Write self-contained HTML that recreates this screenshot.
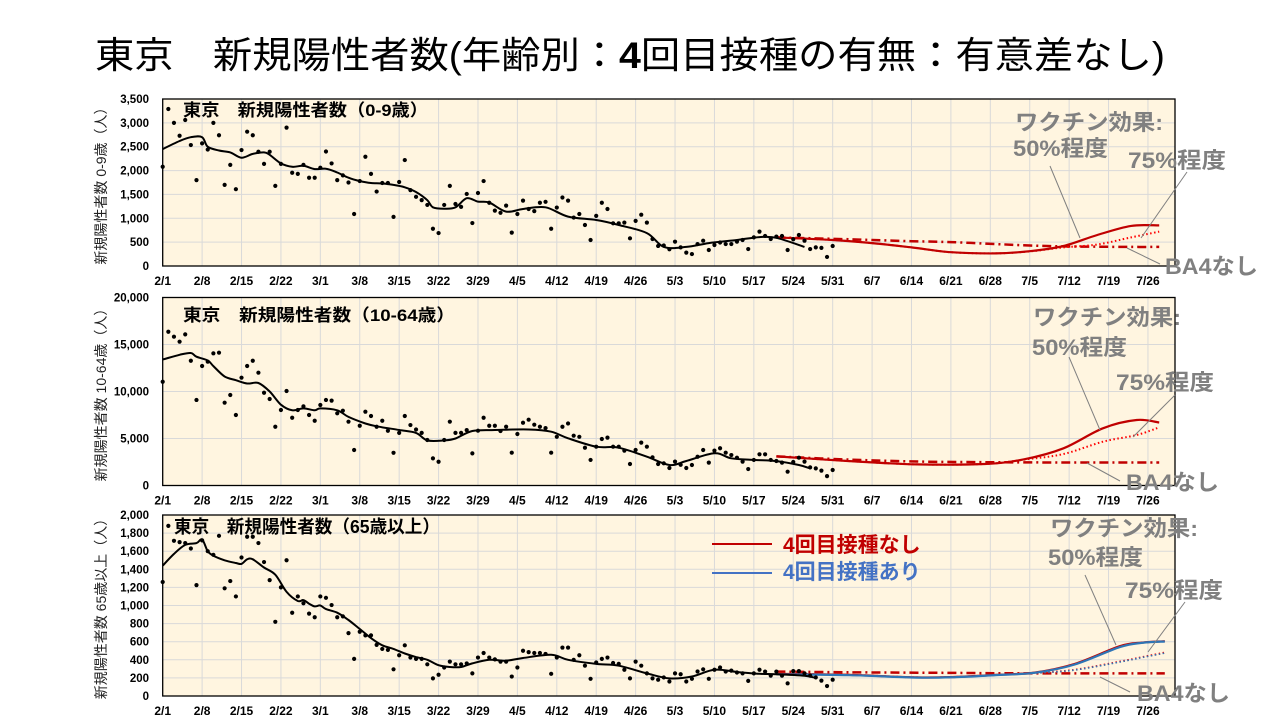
<!DOCTYPE html>
<html><head><meta charset="utf-8">
<style>
html,body{margin:0;padding:0;background:#fff;}
svg{display:block;font-family:"Liberation Sans","Noto Sans CJK JP",sans-serif;}
</style></head>
<body>
<svg id="chart" width="1280" height="720" viewBox="0 0 1280 720" xmlns="http://www.w3.org/2000/svg">
<text x="95" y="68" font-size="37" fill="#000" textLength="1070" lengthAdjust="spacingAndGlyphs">東京　新規陽性者数(年齢別：<tspan font-weight="bold">4</tspan>回目接種の有無：有意差なし)</text>
</svg>
<script>
// ---------- Panel 1 (0-9) ----------
const p1Scatter=[2080,3290,3000,2730,3060,2535,1800,2570,2440,3000,2740,1700,2120,1610,2430,2815,2740,2395,2140,2395,1680,2140,2900,1955,1930,2120,1850,1850,2060,2400,2150,1800,1900,1750,1090,1780,2290,1930,1560,1740,1740,1030,1760,2220,1590,1450,1380,1280,780,690,1280,1680,1300,1240,1510,900,1530,1780,1325,1160,1115,1265,700,1090,1370,1195,1150,1325,1345,780,1225,1435,1370,1015,1090,860,545,1050,1325,1195,895,895,910,580,945,1075,910,565,420,430,350,510,390,280,250,460,530,335,440,493,460,460,510,545,355,600,720,630,565,615,630,335,560,650,530,355,390,380,190,420];
const p1SmoothDays=[0,3,5,7,8,10,12,14,16,18,19,21,23,25,27,29,31,33,35,37,39,41,43,45,47,48,50,52,54,56,58,61,64,68,72,77,81,86,89,93,97,102,106,109,114];
const p1SmoothVals=[2450,2620,2700,2700,2500,2420,2380,2270,2350,2380,2330,2150,2080,2100,2030,2040,1960,1850,1780,1740,1730,1700,1650,1550,1380,1230,1200,1230,1420,1350,1330,1140,1195,1230,1035,965,860,690,400,400,480,545,605,590,400];
const p1ProjDays=[109,119,126,133,140,148,154,160,166,172,177];
const p1Solid=[600,545,480,390,290,265,310,420,650,840,850];
const p1Dotted=[600,545,480,390,290,265,305,390,450,600,720];
const p1DashDot=[600,570,545,520,500,460,430,410,405,400,400];
const p1Ticks=["0","500","1,000","1,500","2,000","2,500","3,000","3,500"];

// ---------- Panel 2 (10-64) ----------
const p2Scatter=[11040,16360,15830,15300,16080,13270,9100,12710,13170,14060,14130,8810,9630,7500,11470,12710,13270,12000,9870,9200,6250,8030,10050,7210,8030,8420,7500,6890,8560,9100,9030,7680,7960,6790,3780,6360,7850,7390,6250,6890,5820,3480,5600,7390,6430,5960,5600,4840,2890,2530,4840,6790,5600,5600,5890,3420,5830,7210,6360,6360,5790,6250,3490,5480,6680,7000,6470,6250,6110,3490,5180,6250,6600,5300,5180,4020,2720,4130,4950,5090,4130,4130,3710,2290,3780,4560,4130,3000,2290,2360,1860,2540,2200,1860,2180,3060,3780,2430,3710,3960,3490,3240,2960,2540,1750,2720,3320,3320,2720,2610,2430,1470,2500,2960,2540,1930,1820,1580,1000,1650];
const p2SmoothDays=[0,3,5,6,8,9,11,13,15,17,19,21,23,25,27,28,31,33,36,38,42,45,47,50,52,55,59,65,69,72,77,81,86,90,93,98,101,105,109,113,115];
const p2SmoothVals=[13400,13900,14100,13700,13300,12700,11600,11200,10850,10900,10000,8600,8000,8200,8000,8200,8000,7300,6600,6300,5900,5600,4800,4800,5000,5800,5900,5960,5720,5020,4130,4020,3060,2180,2610,3430,2890,2720,2600,2180,1820];
const p2ProjDays=[109,122,134,146,153,160,167,173,177];
const p2Solid=[3100,2600,2250,2290,2790,3960,6090,6970,6700];
const p2Dotted=[3100,2600,2250,2290,2750,3350,4660,5370,6190];
const p2DashDot=[3100,2750,2550,2480,2460,2450,2450,2450,2450];
const p2Ticks=["0","5,000","10,000","15,000","20,000"];

// ---------- Panel 3 (65+) ----------
const p3Scatter=[1260,1880,1715,1700,1690,1630,1225,1720,1600,1560,1770,1190,1270,1100,1530,1760,1760,1690,1480,1280,820,1200,1500,920,1100,1025,910,870,1100,1085,1005,870,880,695,410,710,670,670,565,520,510,295,450,560,425,410,410,350,195,235,315,380,350,350,360,250,425,475,425,405,380,380,215,315,500,485,475,475,465,245,425,535,535,400,450,335,190,370,410,425,365,355,290,195,380,335,250,195,180,205,160,250,240,160,190,271,295,190,290,315,270,280,260,250,167,250,290,270,225,270,225,140,275,275,250,225,205,170,110,180];
const p3SmoothDays=[0,2,4,6,7,8,9,11,13,14,15,16,18,20,22,24,25,26,27,28,29,31,33,35,37,39,41,43,45,47,49,51,53,55,58,61,64,69,72,77,81,86,90,94,98,102,106,109,114,116];
const p3SmoothVals=[1440,1570,1670,1690,1730,1600,1550,1500,1470,1460,1510,1510,1420,1340,1150,1050,1060,1020,990,1000,960,920,840,740,640,560,520,470,430,400,340,320,320,360,400,390,420,455,400,355,335,250,195,215,290,265,245,240,223,200];
const p3ProjDays=[109,122,134,141,148,155,162,170,174,178];
const p3Solid=[245,233,205,211,233,260,355,550,590,605];
const p3Dotted=[245,233,205,211,233,255,290,380,430,480];
const p3DashDot=[270,262,258,255,252,250,250,250,250,250];
const p3BlueSolid=[240,230,203,209,231,258,348,540,588,602];
const p3BlueDotted=[240,230,203,209,231,253,287,376,426,474];
const p3Ticks=["0","200","400","600","800","1,000","1,200","1,400","1,600","1,800","2,000"];

const xLabels=["2/1","2/8","2/15","2/22","3/1","3/8","3/15","3/22","3/29","4/5","4/12","4/19","4/26","5/3","5/10","5/17","5/24","5/31","6/7","6/14","6/21","6/28","7/5","7/12","7/19","7/26"];

const NS="http://www.w3.org/2000/svg";
const svg=document.getElementById('chart');
const X0=162.7, PXD=5.63, RIGHT=1175;
function xs(d){return X0+d*PXD;}
function mk(tag,attrs,parent){const e=document.createElementNS(NS,tag);for(const k in attrs)e.setAttribute(k,attrs[k]);(parent||svg).appendChild(e);return e;}
function smoothPath(pts){
  let d="M"+pts[0][0].toFixed(1)+","+pts[0][1].toFixed(1);
  for(let i=0;i<pts.length-1;i++){
    const p0=pts[i-1]||pts[i],p1=pts[i],p2=pts[i+1],p3=pts[i+2]||p2;
    const c1x=p1[0]+(p2[0]-p0[0])/6,c1y=p1[1]+(p2[1]-p0[1])/6;
    const c2x=p2[0]-(p3[0]-p1[0])/6,c2y=p2[1]-(p3[1]-p1[1])/6;
    d+=" C"+c1x.toFixed(1)+","+c1y.toFixed(1)+" "+c2x.toFixed(1)+","+c2y.toFixed(1)+" "+p2[0].toFixed(1)+","+p2[1].toFixed(1);
  }
  return d;
}

function panel(cfg){
  const g=mk('g',{});
  
  
  const ys=v=>cfg.bottom-(v/cfg.max)*(cfg.bottom-cfg.top);
  const bg=mk('rect',{x:X0,y:cfg.top,width:RIGHT-X0,height:cfg.bottom-cfg.top,fill:'#fff5e0'},g);
  
  
  for(let k=1;k<xLabels.length;k++){
    const gl=mk('line',{x1:xs(7*k),x2:xs(7*k),y1:cfg.top,y2:cfg.bottom,stroke:'#d9d9d9','stroke-width':1},g);
    
    
  }
  const nT=cfg.ticks.length-1;
  for(let i=0;i<=nT;i++){
    const v=cfg.max*i/nT, y=ys(v);
    if(i>0&&i<nT){
      const gl=mk('line',{x1:X0,x2:RIGHT,y1:y,y2:y,stroke:'#d9d9d9','stroke-width':1},g);
      
      
    }
    const t=mk('text',{x:149,y:y+4,'font-size':11.5,'font-weight':'bold','text-anchor':'end',fill:'#000'},g);
    t.textContent=cfg.ticks[i];
    
    
  }
  xLabels.forEach((lb,k)=>{
    const t=mk('text',{x:xs(7*k),y:cfg.bottom+19,'font-size':12,'font-weight':'bold','text-anchor':'middle',fill:'#000'},g);
    t.textContent=lb;
    
    
  });
  const bd=mk('rect',{x:X0,y:cfg.top,width:RIGHT-X0,height:cfg.bottom-cfg.top,fill:'none',stroke:'#000','stroke-width':1.3},g);
  
  
  const cy=(cfg.top+cfg.bottom)/2;
  const yt=mk('text',{x:0,y:0,'font-size':14,'text-anchor':'middle',fill:'#222',transform:'translate(106,'+cy+') rotate(-90)'},g);
  yt.textContent=cfg.ytitle;
  
  
  const proj=(vals,color,w,dash,nm)=>{
    const pts=cfg.projDays.map((d,i)=>[xs(d),ys(vals[i])]);
    const p=mk('path',{d:smoothPath(pts),fill:'none',stroke:color,'stroke-width':w},g);
    if(dash)p.setAttribute('stroke-dasharray',dash);
    
    
  };
  proj(cfg.dashdot,'#c00000',2.5,'9,4,2,4','projection-no-ba4');
  proj(cfg.dotted,'#ff0000',2,'1.5,2.5','projection-75pct');
  proj(cfg.solid,'#c00000',2.2,null,'projection-50pct');
  if(cfg.blueSolid){
    proj(cfg.blueSolid,'#2e75b6',2.2,null,'projection-50pct-vaccinated');
    proj(cfg.blueDotted,'#2e75b6',1.6,'1.5,2.5','projection-75pct-vaccinated');
  }
  const sp=cfg.sDays.map((d,i)=>[xs(d),ys(cfg.sVals[i])]);
  const sl=mk('path',{d:smoothPath(sp),fill:'none',stroke:'#000','stroke-width':2},g);
  
  
  cfg.scatter.forEach((v,d)=>{
    if(v==null)return;
    const c=mk('circle',{cx:xs(d),cy:ys(v),r:2.1,fill:'#000'},g);
    
    
  });
  const tt=mk('text',{x:cfg.tx,y:cfg.ty,'font-size':cfg.tfs,'font-weight':'bold',fill:'#000',textLength:cfg.tlen,lengthAdjust:'spacingAndGlyphs'},g);
  tt.textContent=cfg.title;
  
  
  const an=cfg.ann;
  const txt=(s,x,y,len,nm)=>{const t=mk('text',{x:x,y:y,'font-size':22,'font-weight':'bold',fill:'#808080',textLength:len,lengthAdjust:'spacingAndGlyphs'},g);t.textContent=s;};
  txt('ワクチン効果:',an.vx,an.vy,148,'annotation-vaccine-effect');
  txt('50%程度',an.fx,an.fy,95,'annotation-50pct');
  txt('75%程度',an.sx,an.sy,98,'annotation-75pct');
  txt('BA4なし',an.bx,an.by,93,'annotation-no-ba4');
  an.lines.forEach(l=>{
    const ln=mk('line',{x1:l[0],y1:l[1],x2:l[2],y2:l[3],stroke:'#808080','stroke-width':1},g);
    
    
  });
}

panel({name:'panel-age-0-9',top:99,bottom:266,max:3500,ticks:p1Ticks,ytitle:'新規陽性者数 0-9歳（人）',
  scatter:p1Scatter,sDays:p1SmoothDays,sVals:p1SmoothVals,projDays:p1ProjDays,solid:p1Solid,dotted:p1Dotted,dashdot:p1DashDot,
  title:'東京　新規陽性者数（0-9歳）',tx:183,ty:116,tfs:17,tlen:245,
  ann:{vx:1015,vy:130,fx:1013,fy:156,sx:1128,sy:168,bx:1165,by:274,lines:[[1050,166,1080,238],[1187,172,1141,238],[1127,248,1160,264]]}});
panel({name:'panel-age-10-64',top:297.5,bottom:485.5,max:20000,ticks:p2Ticks,ytitle:'新規陽性者数 10-64歳（人）',
  scatter:p2Scatter,sDays:p2SmoothDays,sVals:p2SmoothVals,projDays:p2ProjDays,solid:p2Solid,dotted:p2Dotted,dashdot:p2DashDot,
  title:'東京　新規陽性者数（10-64歳）',tx:183,ty:321,tfs:17,tlen:272,
  ann:{vx:1033,vy:325,fx:1032,fy:355,sx:1116,sy:390,bx:1126,by:490,lines:[[1069,357,1100,430],[1175,395,1133,437],[1087,463,1120,481]]}});
panel({name:'panel-age-65-plus',top:515,bottom:696,max:2000,ticks:p3Ticks,ytitle:'新規陽性者数 65歳以上（人）',
  scatter:p3Scatter,sDays:p3SmoothDays,sVals:p3SmoothVals,projDays:p3ProjDays,solid:p3Solid,dotted:p3Dotted,dashdot:p3DashDot,
  blueSolid:p3BlueSolid,blueDotted:p3BlueDotted,
  title:'東京　新規陽性者数（65歳以上）',tx:174,ty:533,tfs:18,tlen:266,
  ann:{vx:1050,vy:536,fx:1048,fy:565,sx:1125,sy:598,bx:1137,by:701,lines:[[1085,575,1116,645],[1185,602,1148,652],[1100,677,1130,692]]}});

const lg=mk('g',{});


const l1=mk('line',{x1:712,x2:772,y1:544,y2:544,stroke:'#c00000','stroke-width':2},lg);


const t1=mk('text',{x:783,y:552,'font-size':21,'font-weight':'bold',fill:'#c00000'},lg);
t1.textContent='4回目接種なし';


const l2=mk('line',{x1:712,x2:772,y1:573,y2:573,stroke:'#4472c4','stroke-width':2},lg);


const t2=mk('text',{x:783,y:579,'font-size':21,'font-weight':'bold',fill:'#4472c4'},lg);
t2.textContent='4回目接種あり';


</script>
</body></html>
